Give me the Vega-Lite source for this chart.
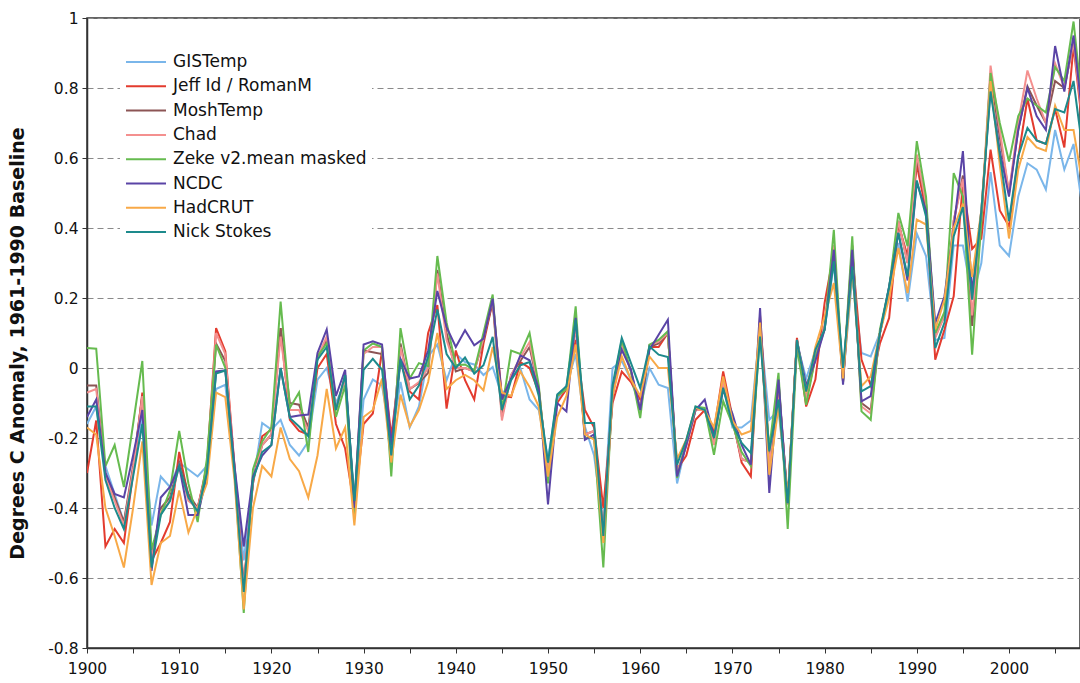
{
  "$schema": "https://vega.github.io/schema/vega-lite/v6.json",
  "width": 993,
  "height": 630,
  "autosize": {"type": "none"},
  "padding": {"left": 87, "top": 18, "right": 0, "bottom": 35},
  "background": "white",
  "config": {
    "view": {"stroke": "#333333", "strokeWidth": 1.5},
    "axis": {"labelFont": "DejaVu Sans", "labelFontSize": 15.5, "labelColor": "#111111", "domainColor": "#333333", "domainWidth": 1.5, "tickColor": "#333333", "tickSize": 5}
  },
  "data": {
    "values": [
      {"year":1900,"G":-0.16,"J":-0.30,"M":-0.05,"C":-0.07,"Z":0.057,"N":-0.14,"H":-0.17,"S":-0.11},
      {"year":1901,"G":-0.11,"J":-0.15,"M":-0.05,"C":-0.06,"Z":0.055,"N":-0.09,"H":-0.19,"S":-0.11},
      {"year":1902,"G":-0.28,"J":-0.51,"M":-0.30,"C":-0.31,"Z":-0.28,"N":-0.30,"H":-0.40,"S":-0.32},
      {"year":1903,"G":-0.36,"J":-0.46,"M":-0.37,"C":-0.38,"Z":-0.22,"N":-0.36,"H":-0.48,"S":-0.40},
      {"year":1904,"G":-0.44,"J":-0.50,"M":-0.44,"C":-0.45,"Z":-0.34,"N":-0.37,"H":-0.57,"S":-0.46},
      {"year":1905,"G":-0.30,"J":-0.30,"M":-0.28,"C":-0.29,"Z":-0.16,"N":-0.25,"H":-0.40,"S":-0.31},
      {"year":1906,"G":-0.14,"J":-0.07,"M":-0.08,"C":-0.08,"Z":0.02,"N":-0.12,"H":-0.21,"S":-0.16},
      {"year":1907,"G":-0.45,"J":-0.55,"M":-0.55,"C":-0.55,"Z":-0.52,"N":-0.58,"H":-0.62,"S":-0.57},
      {"year":1908,"G":-0.31,"J":-0.50,"M":-0.40,"C":-0.41,"Z":-0.42,"N":-0.37,"H":-0.50,"S":-0.42},
      {"year":1909,"G":-0.34,"J":-0.44,"M":-0.37,"C":-0.38,"Z":-0.35,"N":-0.34,"H":-0.48,"S":-0.38},
      {"year":1910,"G":-0.27,"J":-0.24,"M":-0.27,"C":-0.28,"Z":-0.18,"N":-0.28,"H":-0.35,"S":-0.28},
      {"year":1911,"G":-0.29,"J":-0.37,"M":-0.36,"C":-0.38,"Z":-0.33,"N":-0.42,"H":-0.47,"S":-0.37},
      {"year":1912,"G":-0.31,"J":-0.40,"M":-0.40,"C":-0.40,"Z":-0.44,"N":-0.42,"H":-0.40,"S":-0.41},
      {"year":1913,"G":-0.28,"J":-0.28,"M":-0.29,"C":-0.29,"Z":-0.26,"N":-0.31,"H":-0.33,"S":-0.30},
      {"year":1914,"G":-0.06,"J":0.114,"M":0.07,"C":0.10,"Z":0.067,"N":-0.01,"H":-0.07,"S":-0.016},
      {"year":1915,"G":-0.048,"J":0.048,"M":0.02,"C":0.04,"Z":0.0,"N":-0.007,"H":-0.083,"S":-0.007},
      {"year":1916,"G":-0.28,"J":-0.28,"M":-0.29,"C":-0.29,"Z":-0.30,"N":-0.28,"H":-0.32,"S":-0.30},
      {"year":1917,"G":-0.55,"J":-0.62,"M":-0.63,"C":-0.63,"Z":-0.70,"N":-0.51,"H":-0.69,"S":-0.64},
      {"year":1918,"G":-0.33,"J":-0.33,"M":-0.32,"C":-0.32,"Z":-0.29,"N":-0.31,"H":-0.40,"S":-0.32},
      {"year":1919,"G":-0.157,"J":-0.195,"M":-0.22,"C":-0.22,"Z":-0.21,"N":-0.25,"H":-0.28,"S":-0.24},
      {"year":1920,"G":-0.176,"J":-0.176,"M":-0.19,"C":-0.19,"Z":-0.17,"N":-0.22,"H":-0.31,"S":-0.22},
      {"year":1921,"G":-0.148,"J":0.114,"M":0.114,"C":0.09,"Z":0.19,"N":0.0,"H":-0.17,"S":0.0},
      {"year":1922,"G":-0.22,"J":-0.148,"M":-0.10,"C":-0.12,"Z":-0.114,"N":-0.14,"H":-0.26,"S":-0.143},
      {"year":1923,"G":-0.25,"J":-0.18,"M":-0.105,"C":-0.12,"Z":-0.07,"N":-0.136,"H":-0.295,"S":-0.167},
      {"year":1924,"G":-0.21,"J":-0.19,"M":-0.17,"C":-0.18,"Z":-0.24,"N":-0.133,"H":-0.37,"S":-0.195},
      {"year":1925,"G":-0.033,"J":0.0,"M":0.03,"C":0.03,"Z":0.033,"N":0.043,"H":-0.25,"S":0.024},
      {"year":1926,"G":0.0,"J":0.04,"M":0.08,"C":0.09,"Z":0.07,"N":0.11,"H":-0.06,"S":0.06},
      {"year":1927,"G":-0.10,"J":-0.16,"M":-0.12,"C":-0.12,"Z":-0.14,"N":-0.08,"H":-0.23,"S":-0.12},
      {"year":1928,"G":-0.04,"J":-0.23,"M":-0.02,"C":-0.03,"Z":-0.05,"N":-0.005,"H":-0.17,"S":-0.02},
      {"year":1929,"G":-0.38,"J":-0.40,"M":-0.39,"C":-0.40,"Z":-0.42,"N":-0.40,"H":-0.45,"S":-0.38},
      {"year":1930,"G":-0.09,"J":-0.16,"M":0.05,"C":0.04,"Z":0.05,"N":0.067,"H":-0.14,"S":-0.005},
      {"year":1931,"G":-0.033,"J":-0.13,"M":0.045,"C":0.06,"Z":0.07,"N":0.076,"H":-0.12,"S":0.026},
      {"year":1932,"G":-0.05,"J":0.05,"M":0.04,"C":0.06,"Z":0.06,"N":0.067,"H":-0.03,"S":-0.005},
      {"year":1933,"G":-0.21,"J":-0.195,"M":-0.24,"C":-0.24,"Z":-0.31,"N":-0.22,"H":-0.27,"S":-0.25},
      {"year":1934,"G":-0.04,"J":0.02,"M":0.07,"C":0.06,"Z":0.114,"N":0.026,"H":-0.076,"S":0.024},
      {"year":1935,"G":-0.17,"J":-0.067,"M":-0.06,"C":-0.06,"Z":-0.03,"N":-0.03,"H":-0.167,"S":-0.09},
      {"year":1936,"G":-0.11,"J":-0.09,"M":-0.043,"C":-0.04,"Z":0.014,"N":-0.024,"H":-0.12,"S":-0.05},
      {"year":1937,"G":0.033,"J":0.10,"M":-0.014,"C":0.0,"Z":0.005,"N":0.05,"H":-0.04,"S":0.033},
      {"year":1938,"G":0.067,"J":0.18,"M":0.28,"C":0.27,"Z":0.32,"N":0.22,"H":0.10,"S":0.167},
      {"year":1939,"G":-0.035,"J":-0.116,"M":0.10,"C":0.08,"Z":0.13,"N":0.117,"H":-0.06,"S":0.04},
      {"year":1940,"G":0.04,"J":0.05,"M":-0.01,"C":0.0,"Z":0.008,"N":0.06,"H":-0.035,"S":0.0},
      {"year":1941,"G":0.017,"J":-0.035,"M":0.0,"C":0.0,"Z":0.01,"N":0.108,"H":-0.02,"S":0.03},
      {"year":1942,"G":0.01,"J":-0.09,"M":-0.01,"C":-0.01,"Z":-0.007,"N":0.065,"H":-0.035,"S":-0.016},
      {"year":1943,"G":-0.02,"J":0.07,"M":0.08,"C":0.085,"Z":0.10,"N":0.084,"H":-0.064,"S":0.008},
      {"year":1944,"G":0.003,"J":0.19,"M":0.19,"C":0.20,"Z":0.21,"N":0.198,"H":0.06,"S":0.089},
      {"year":1945,"G":-0.08,"J":-0.08,"M":-0.14,"C":-0.15,"Z":-0.12,"N":-0.09,"H":-0.07,"S":-0.12},
      {"year":1946,"G":-0.03,"J":-0.083,"M":-0.02,"C":-0.02,"Z":0.05,"N":-0.03,"H":-0.08,"S":-0.035},
      {"year":1947,"G":0.0,"J":0.017,"M":0.02,"C":0.03,"Z":0.04,"N":0.036,"H":-0.01,"S":0.008},
      {"year":1948,"G":-0.09,"J":0.0,"M":0.06,"C":0.074,"Z":0.10,"N":0.022,"H":-0.054,"S":0.017},
      {"year":1949,"G":-0.12,"J":-0.07,"M":-0.06,"C":-0.06,"Z":-0.05,"N":-0.06,"H":-0.11,"S":-0.08},
      {"year":1950,"G":-0.26,"J":-0.29,"M":-0.30,"C":-0.30,"Z":-0.33,"N":-0.39,"H":-0.31,"S":-0.27},
      {"year":1951,"G":-0.09,"J":-0.10,"M":-0.08,"C":-0.08,"Z":-0.08,"N":-0.10,"H":-0.14,"S":-0.076},
      {"year":1952,"G":-0.05,"J":-0.06,"M":-0.06,"C":-0.06,"Z":-0.06,"N":-0.124,"H":-0.08,"S":-0.052},
      {"year":1953,"G":0.04,"J":0.08,"M":0.12,"C":0.12,"Z":0.176,"N":0.143,"H":0.067,"S":0.138},
      {"year":1954,"G":-0.167,"J":-0.12,"M":-0.19,"C":-0.19,"Z":-0.20,"N":-0.205,"H":-0.19,"S":-0.157},
      {"year":1955,"G":-0.25,"J":-0.17,"M":-0.18,"C":-0.18,"Z":-0.20,"N":-0.19,"H":-0.205,"S":-0.157},
      {"year":1956,"G":-0.45,"J":-0.40,"M":-0.47,"C":-0.47,"Z":-0.57,"N":-0.49,"H":-0.50,"S":-0.48},
      {"year":1957,"G":0.0,"J":-0.10,"M":-0.07,"C":-0.07,"Z":-0.06,"N":-0.08,"H":-0.08,"S":-0.05},
      {"year":1958,"G":0.02,"J":-0.01,"M":0.07,"C":0.07,"Z":0.08,"N":0.052,"H":0.033,"S":0.086},
      {"year":1959,"G":-0.033,"J":-0.04,"M":-0.01,"C":-0.01,"Z":-0.01,"N":-0.005,"H":-0.033,"S":0.014},
      {"year":1960,"G":-0.114,"J":-0.09,"M":-0.12,"C":-0.12,"Z":-0.143,"N":-0.12,"H":-0.08,"S":-0.057},
      {"year":1961,"G":0.0,"J":0.06,"M":0.06,"C":0.065,"Z":0.067,"N":0.052,"H":0.033,"S":0.062},
      {"year":1962,"G":-0.048,"J":0.06,"M":0.07,"C":0.075,"Z":0.08,"N":0.095,"H":0.0,"S":0.038},
      {"year":1963,"G":-0.057,"J":0.10,"M":0.10,"C":0.10,"Z":0.105,"N":0.138,"H":0.0,"S":0.031},
      {"year":1964,"G":-0.33,"J":-0.29,"M":-0.30,"C":-0.30,"Z":-0.314,"N":-0.31,"H":-0.26,"S":-0.276},
      {"year":1965,"G":-0.215,"J":-0.25,"M":-0.22,"C":-0.22,"Z":-0.21,"N":-0.22,"H":-0.205,"S":-0.205},
      {"year":1966,"G":-0.12,"J":-0.148,"M":-0.12,"C":-0.12,"Z":-0.11,"N":-0.12,"H":-0.114,"S":-0.11},
      {"year":1967,"G":-0.12,"J":-0.12,"M":-0.12,"C":-0.12,"Z":-0.114,"N":-0.09,"H":-0.12,"S":-0.12},
      {"year":1968,"G":-0.18,"J":-0.18,"M":-0.21,"C":-0.22,"Z":-0.248,"N":-0.195,"H":-0.17,"S":-0.20},
      {"year":1969,"G":-0.052,"J":-0.01,"M":-0.03,"C":-0.04,"Z":-0.095,"N":-0.062,"H":-0.024,"S":-0.057},
      {"year":1970,"G":-0.17,"J":-0.14,"M":-0.15,"C":-0.15,"Z":-0.16,"N":-0.13,"H":-0.15,"S":-0.16},
      {"year":1971,"G":-0.17,"J":-0.27,"M":-0.26,"C":-0.26,"Z":-0.24,"N":-0.22,"H":-0.19,"S":-0.214},
      {"year":1972,"G":-0.15,"J":-0.31,"M":-0.27,"C":-0.27,"Z":-0.28,"N":-0.276,"H":-0.18,"S":-0.243},
      {"year":1973,"G":0.12,"J":0.15,"M":0.13,"C":0.13,"Z":0.10,"N":0.171,"H":0.13,"S":0.09},
      {"year":1974,"G":-0.148,"J":-0.243,"M":-0.28,"C":-0.28,"Z":-0.23,"N":-0.357,"H":-0.305,"S":-0.238},
      {"year":1975,"G":-0.12,"J":-0.05,"M":-0.04,"C":-0.04,"Z":-0.014,"N":-0.033,"H":-0.11,"S":-0.09},
      {"year":1976,"G":-0.37,"J":-0.38,"M":-0.39,"C":-0.39,"Z":-0.46,"N":-0.386,"H":-0.37,"S":-0.386},
      {"year":1977,"G":0.07,"J":0.086,"M":0.08,"C":0.08,"Z":0.06,"N":0.08,"H":0.08,"S":0.08},
      {"year":1978,"G":-0.03,"J":-0.11,"M":-0.09,"C":-0.09,"Z":-0.105,"N":-0.05,"H":-0.07,"S":-0.067},
      {"year":1979,"G":0.05,"J":-0.033,"M":0.03,"C":0.03,"Z":0.03,"N":0.02,"H":0.06,"S":0.052},
      {"year":1980,"G":0.11,"J":0.186,"M":0.12,"C":0.12,"Z":0.11,"N":0.11,"H":0.148,"S":0.11},
      {"year":1981,"G":0.30,"J":0.33,"M":0.35,"C":0.35,"Z":0.395,"N":0.338,"H":0.243,"S":0.305},
      {"year":1982,"G":-0.03,"J":-0.03,"M":-0.04,"C":-0.04,"Z":-0.04,"N":-0.048,"H":-0.03,"S":0.0},
      {"year":1983,"G":0.26,"J":0.33,"M":0.35,"C":0.35,"Z":0.376,"N":0.338,"H":0.28,"S":0.29},
      {"year":1984,"G":0.043,"J":0.024,"M":-0.10,"C":-0.11,"Z":-0.124,"N":-0.095,"H":-0.052,"S":-0.067},
      {"year":1985,"G":0.033,"J":-0.05,"M":-0.12,"C":-0.13,"Z":-0.148,"N":-0.08,"H":-0.024,"S":-0.052},
      {"year":1986,"G":0.10,"J":0.07,"M":0.10,"C":0.10,"Z":0.11,"N":0.10,"H":0.10,"S":0.10},
      {"year":1987,"G":0.22,"J":0.143,"M":0.22,"C":0.22,"Z":0.23,"N":0.233,"H":0.20,"S":0.233},
      {"year":1988,"G":0.357,"J":0.41,"M":0.42,"C":0.42,"Z":0.443,"N":0.386,"H":0.343,"S":0.386},
      {"year":1989,"G":0.19,"J":0.32,"M":0.30,"C":0.30,"Z":0.348,"N":0.25,"H":0.214,"S":0.262},
      {"year":1990,"G":0.384,"J":0.58,"M":0.60,"C":0.61,"Z":0.648,"N":0.53,"H":0.424,"S":0.536},
      {"year":1991,"G":0.32,"J":0.45,"M":0.47,"C":0.47,"Z":0.49,"N":0.45,"H":0.41,"S":0.433},
      {"year":1992,"G":0.08,"J":0.024,"M":0.09,"C":0.086,"Z":0.10,"N":0.128,"H":0.11,"S":0.057},
      {"year":1993,"G":0.086,"J":0.11,"M":0.15,"C":0.15,"Z":0.16,"N":0.205,"H":0.195,"S":0.13},
      {"year":1994,"G":0.35,"J":0.205,"M":0.42,"C":0.42,"Z":0.557,"N":0.40,"H":0.40,"S":0.376},
      {"year":1995,"G":0.35,"J":0.53,"M":0.55,"C":0.54,"Z":0.49,"N":0.62,"H":0.47,"S":0.46},
      {"year":1996,"G":0.20,"J":0.34,"M":0.12,"C":0.15,"Z":0.038,"N":0.214,"H":0.26,"S":0.195},
      {"year":1997,"G":0.30,"J":0.37,"M":0.42,"C":0.43,"Z":0.42,"N":0.45,"H":0.45,"S":0.45},
      {"year":1998,"G":0.56,"J":0.624,"M":0.84,"C":0.864,"Z":0.843,"N":0.80,"H":0.82,"S":0.79},
      {"year":1999,"G":0.35,"J":0.45,"M":0.66,"C":0.68,"Z":0.70,"N":0.62,"H":0.58,"S":0.61},
      {"year":2000,"G":0.32,"J":0.405,"M":0.50,"C":0.50,"Z":0.59,"N":0.49,"H":0.37,"S":0.42},
      {"year":2001,"G":0.49,"J":0.60,"M":0.68,"C":0.70,"Z":0.72,"N":0.68,"H":0.567,"S":0.605},
      {"year":2002,"G":0.585,"J":0.77,"M":0.805,"C":0.85,"Z":0.77,"N":0.80,"H":0.66,"S":0.686},
      {"year":2003,"G":0.567,"J":0.65,"M":0.75,"C":0.77,"Z":0.75,"N":0.72,"H":0.63,"S":0.65},
      {"year":2004,"G":0.51,"J":0.64,"M":0.70,"C":0.70,"Z":0.73,"N":0.68,"H":0.62,"S":0.64},
      {"year":2005,"G":0.68,"J":0.74,"M":0.82,"C":0.87,"Z":0.86,"N":0.92,"H":0.75,"S":0.74},
      {"year":2006,"G":0.567,"J":0.63,"M":0.80,"C":0.80,"Z":0.82,"N":0.79,"H":0.68,"S":0.73},
      {"year":2007,"G":0.64,"J":0.92,"M":0.93,"C":0.93,"Z":0.99,"N":0.95,"H":0.68,"S":0.82},
      {"year":2008,"G":0.45,"J":0.68,"M":0.72,"C":0.70,"Z":0.74,"N":0.71,"H":0.52,"S":0.62}
    ]
  },
  "transform": [
    {"fold": ["G", "J", "M", "C", "Z", "N", "H", "S"], "as": ["series", "anomaly"]}
  ],
  "mark": {"type": "line", "strokeWidth": 2, "clip": true},
  "encoding": {
    "x": {
      "field": "year",
      "type": "quantitative",
      "scale": {"domain": [1900, 2007.7], "nice": false, "zero": false},
      "axis": {
        "title": null,
        "grid": false,
        "values": [1900,1905,1910,1915,1920,1925,1930,1935,1940,1945,1950,1955,1960,1965,1970,1975,1980,1985,1990,1995,2000,2005],
        "labelExpr": "datum.value % 10 == 0 ? format(datum.value, 'd') : ''",
        "labelFlush": false,
        "labelOverlap": false,
        "labelPadding": 8
      }
    },
    "y": {
      "field": "anomaly",
      "type": "quantitative",
      "scale": {"domain": [-0.8, 1], "nice": false, "zero": false},
      "axis": {
        "title": "Degrees C Anomaly, 1961-1990 Baseline",
        "titleFont": "DejaVu Sans",
        "titleFontWeight": "bold",
        "titleFontSize": 19,
        "titleColor": "#111111",
        "titleX": -60,
        "titleY": 325,
        "titleAngle": 270,
        "titleAlign": "center",
        "titleBaseline": "bottom",
        "values": [-0.8, -0.6, -0.4, -0.2, 0, 0.2, 0.4, 0.6, 0.8, 1],
        "labelExpr": "(datum.value < 0 ? '-' : '') + format(abs(datum.value), '~g')",
        "labelPadding": 4,
        "labelFlush": false,
        "labelOverlap": false,
        "grid": true,
        "gridDash": [6, 4],
        "gridColor": "#8a8a8a",
        "gridWidth": 1.2
      }
    },
    "color": {
      "field": "series",
      "type": "nominal",
      "scale": {
        "domain": ["G", "J", "M", "C", "Z", "N", "H", "S"],
        "range": ["#7ab6ea", "#e33b2e", "#8c5555", "#f4908f", "#66bb4f", "#5a44a6", "#f8a947", "#1d8a8c"]
      },
      "legend": {
        "title": null,
        "orient": "none",
        "legendX": 33,
        "legendY": 28,
        "fillColor": "white",
        "padding": 5,
        "symbolType": "stroke",
        "symbolSize": 1600,
        "symbolStrokeWidth": 2,
        "clipHeight": 22,
        "rowPadding": 2.3,
        "labelFont": "DejaVu Sans",
        "labelFontSize": 17,
        "labelColor": "#111111",
        "labelOffset": 6,
        "labelLimit": 400,
        "labelExpr": "datum.label == 'G' ? 'GISTemp' : datum.label == 'J' ? 'Jeff Id / RomanM' : datum.label == 'M' ? 'MoshTemp' : datum.label == 'C' ? 'Chad' : datum.label == 'Z' ? 'Zeke v2.mean masked' : datum.label == 'N' ? 'NCDC' : datum.label == 'H' ? 'HadCRUT' : 'Nick Stokes'"
      }
    }
  }
}
